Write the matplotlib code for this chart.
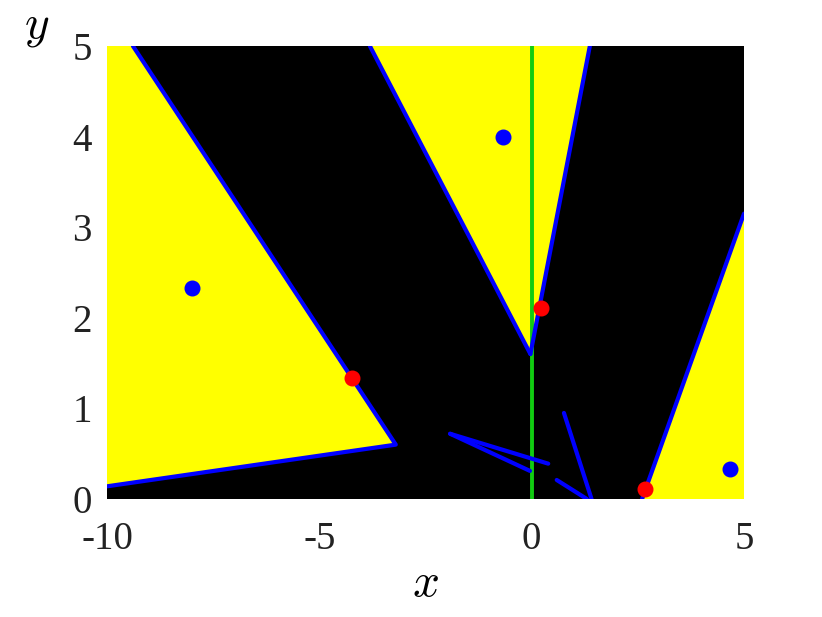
import matplotlib
matplotlib.use('Agg')
import matplotlib.pyplot as plt

# yellow regions (polygon vertices in data units)
left_x = [-10, -9.39, -3.2, -10]
left_y = [5, 5, 0.6, 0.14]
mid_x = [-3.81, 1.37, -0.03]
mid_y = [5, 5, 1.6]
right_x = [2.63, 5, 5]
right_y = [0, 3.15, 0]

# blue boundary lines
bound_lines = [
    ([-9.39, -3.2, -10], [5, 0.6, 0.14]),
    ([-3.81, -0.03], [5, 1.6]),
    ([1.37, -0.03], [5, 1.6]),
    ([2.6, 5], [0, 3.15]),
    ([-1.92, 0.39], [0.72, 0.39]),
    ([-1.92, -0.04], [0.72, 0.31]),
    ([0.76, 1.41], [0.95, 0]),
    ([0.59, 1.3], [0.21, 0]),
]

# points
blue_x = [-8.0, -0.68, 4.67]
blue_y = [2.33, 4.0, 0.33]
red_x = [-4.23, 0.22, 2.67]
red_y = [1.34, 2.11, 0.11]

plt.rcParams['font.family'] = ['Liberation Serif', 'DejaVu Serif']
plt.rcParams['mathtext.fontset'] = 'cm'

fig = plt.figure(figsize=(8.22, 6.17), dpi=100)
ax = fig.add_axes([107 / 822, 1 - 499 / 617, 637 / 822, 453 / 617])
ax.set_facecolor('black')

for xs, ys in [(left_x, left_y), (mid_x, mid_y), (right_x, right_y)]:
    ax.fill(xs, ys, color='#ffff00', lw=0, zorder=1)

ax.plot([0, 0], [0, 5], color='#11cc11', lw=2.8, zorder=2)

for xs, ys in bound_lines:
    ax.plot(xs, ys, color='#0000ff', lw=3, solid_capstyle='round', zorder=3)

ax.plot(blue_x, blue_y, 'o', color='#0000ff', ms=10.5, zorder=4)
ax.plot(red_x, red_y, 'o', color='#ff0000', ms=10.5, zorder=4)

ax.set_xlim(-10, 5)
ax.set_ylim(0, 5)
ax.set_xticks([-10, -5, 0, 5])
ax.set_yticks([0, 1, 2, 3, 4, 5])
ax.set_xticklabels(['-10', '-5', '0', '5'])
ax.tick_params(length=0, labelsize=28, colors='#222222')
ax.tick_params(axis='x', pad=16)
ax.tick_params(axis='y', pad=11)
for s in ax.spines.values():
    s.set_visible(False)

fig.text(425 / 822, 1 - 585 / 617, r'$x$', fontsize=34, ha='center', va='center')
fig.text(37 / 822, 1 - 28 / 617, r'$y$', fontsize=34, ha='center', va='center')

fig.savefig('out.png', dpi=100, facecolor='white')
